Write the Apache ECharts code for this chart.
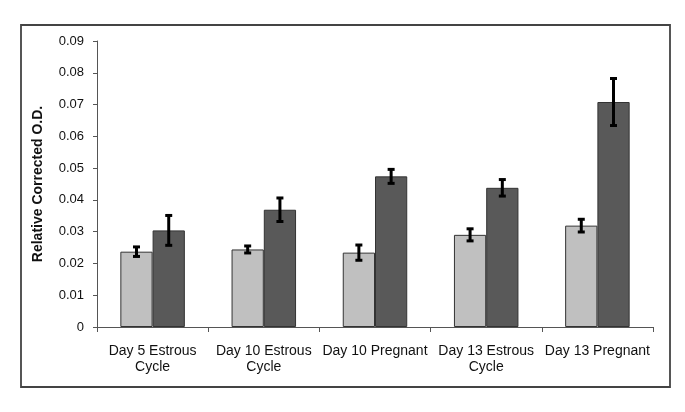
<!DOCTYPE html>
<html>
<head>
<meta charset="utf-8">
<script src="https://cdn.jsdelivr.net/npm/echarts@6/dist/echarts.min.js"></script>
<style>
  html, body { margin: 0; padding: 0; background: #fff; }
  #chart { width: 685px; height: 412px; }
</style>
</head>
<body>
<div id="chart"></div>
<script>
// categorias y valores
const categories = ['Day 5 Estrous\nCycle', 'Day 10 Estrous\nCycle', 'Day 10 Pregnant', 'Day 13 Estrous\nCycle', 'Day 13 Pregnant'];
const lightValues = [0.0237, 0.0244, 0.0234, 0.0290, 0.0319];
const lightErrors = [0.0015, 0.0011, 0.0024, 0.0019, 0.0020];
const darkValues = [0.0304, 0.0369, 0.0474, 0.0438, 0.0708];
const darkErrors = [0.0047, 0.0037, 0.0022, 0.0026, 0.0074];
const yTicks = [0, 0.01, 0.02, 0.03, 0.04, 0.05, 0.06, 0.07, 0.08, 0.09];

const chartEl = document.getElementById('chart');
const chart = echarts.init(chartEl, null, { renderer: 'canvas' });

const gapRatio = 0.42; // hueco entre categorias

function errorBarSeries(values, errors, side) {
    return {
        type: 'custom',
        z: 10,
        renderItem: (params, api) => {
            const idx = api.value(0);
            const band = api.size([1, 0])[0];
            const barW = band * (1 - gapRatio) / 2;
            const center = api.coord([idx, 0])[0] + side * barW / 2;
            const hi = api.coord([idx, values[idx] + errors[idx]])[1];
            const lo = api.coord([idx, values[idx] - errors[idx]])[1];
            const style = { stroke: '#000', lineWidth: 3 };
            const cap = 3.5;
            return {
                type: 'group',
                children: [
                    { type: 'line', shape: { x1: center, y1: hi, x2: center, y2: lo }, style },
                    { type: 'line', shape: { x1: center - cap, y1: hi, x2: center + cap, y2: hi }, style },
                    { type: 'line', shape: { x1: center - cap, y1: lo, x2: center + cap, y2: lo }, style }
                ]
            };
        },
        data: values.map((v, i) => [i, v])
    };
}

chart.setOption({
    backgroundColor: '#ffffff',
    animation: false,
    textStyle: { fontFamily: 'Liberation Sans, Arial, sans-serif' },
    graphic: [{
        type: 'rect',
        shape: { x: 21, y: 25, width: 649, height: 362 },
        style: { fill: 'none', stroke: '#444', lineWidth: 1.8 },
        silent: true
    }],
    grid: { left: 97, right: 32, top: 41, bottom: 85 },
    xAxis: {
        type: 'category',
        data: categories,
        axisLine: { lineStyle: { color: '#555', width: 1 } },
        axisTick: { show: true, length: 5, lineStyle: { color: '#555' } },
        axisLabel: { interval: 0, color: '#111', fontSize: 14, margin: 16, lineHeight: 16 }
    },
    yAxis: {
        type: 'value',
        min: 0,
        max: 0.09,
        interval: 0.01,
        name: 'Relative Corrected O.D.',
        nameLocation: 'middle',
        nameGap: 52,
        nameTextStyle: { color: '#111', fontSize: 14, fontWeight: 'bold' },
        splitLine: { show: false },
        axisLine: { show: true, lineStyle: { color: '#555', width: 1 } },
        axisTick: { show: true, length: 4, lineStyle: { color: '#555' } },
        axisLabel: {
            color: '#111', fontSize: 13, margin: 13,
            formatter: v => {
                const t = yTicks.find(x => Math.abs(x - v) < 1e-9);
                return t === 0 ? '0' : (t !== undefined ? t.toFixed(2) : '');
            }
        }
    },
    series: [
        {
            type: 'bar',
            data: lightValues,
            barGap: '0%',
            barCategoryGap: (gapRatio * 100) + '%',
            itemStyle: { color: '#c0c0c0', borderColor: '#333', borderWidth: 1 }
        },
        {
            type: 'bar',
            data: darkValues,
            itemStyle: { color: '#595959', borderColor: '#333', borderWidth: 1 }
        },
        errorBarSeries(lightValues, lightErrors, -1),
        errorBarSeries(darkValues, darkErrors, 1)
    ]
});

window.addEventListener('resize', () => chart.resize());
</script>
</body>
</html>
